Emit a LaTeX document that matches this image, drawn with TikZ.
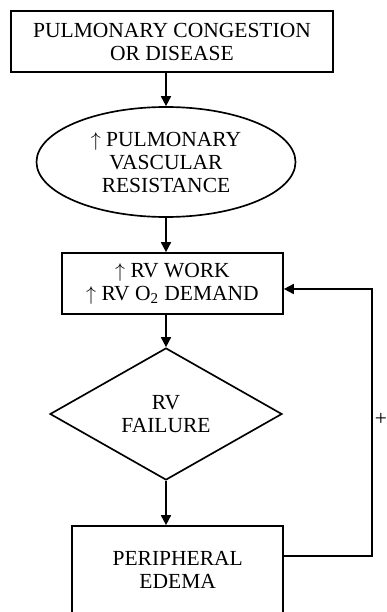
\documentclass[tikz,border=0pt]{standalone}
\usepackage{fontspec}
\setmainfont{Liberation Serif}
\usetikzlibrary{arrows.meta,shapes.geometric}

\begin{document}
\begin{tikzpicture}[x=0.6pt, y=-0.6pt, line width=1pt,
  >={Triangle[length=6pt, width=6pt]},
  every node/.style={draw, align=center, inner sep=0pt,
    font=\fontsize{12.9}{13.8}\selectfont},
  box/.style={rectangle},
  oval/.style={ellipse},
  decision/.style={diamond}]
  \clip (0,0) rectangle (387,612);
  \node[box, minimum width=193.2pt, minimum height=36.6pt] (congestion)
    at (172,41.5) {PULMONARY CONGESTION\\OR DISEASE};
  \node[oval, minimum width=155.4pt, minimum height=66pt] (pvr)
    at (166,162) {$\uparrow$ PULMONARY\\VASCULAR\\RESISTANCE};
  \node[box, minimum width=132.6pt, minimum height=36.6pt] (work)
    at (172.5,283.5) {$\uparrow$ RV WORK\\$\uparrow$ RV O\textsubscript{2} DEMAND};
  \node[decision, minimum width=139.2pt, minimum height=79.2pt] (failure)
    at (166,414) {RV\\FAILURE};
  \node[box, minimum width=126.6pt, minimum height=52.8pt] (edema)
    at (177.7,570) {PERIPHERAL\\EDEMA};
  \coordinate (fb) at (372,289);
  \draw[->] (congestion.south -| pvr) -- (pvr.north);
  \draw[->] (pvr.south) -- (work.north -| pvr);
  \draw[->] (work.south -| failure) -- (failure.north);
  \draw[->] (failure.south) -- (edema.north -| failure);
  \draw[->] (edema.east |- 0,556) -| (fb) -- (work.east |- fb);
  \node[draw=none] (plus) at (381,419) {+};
\end{tikzpicture}
\end{document}
